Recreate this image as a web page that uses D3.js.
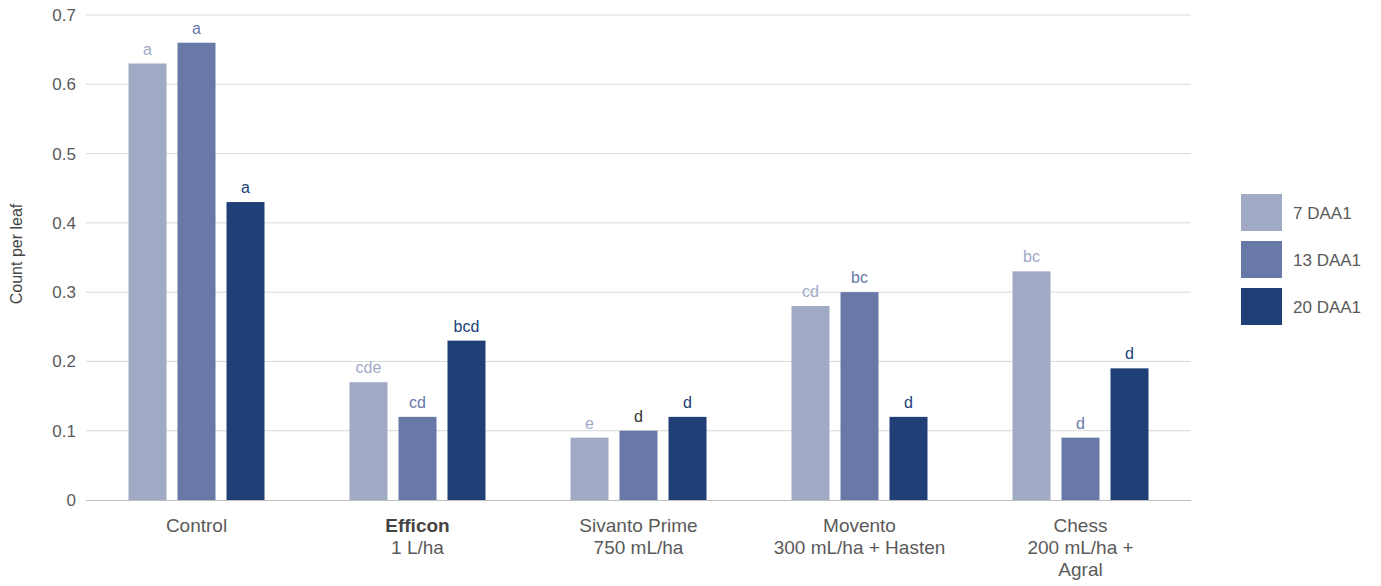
<!DOCTYPE html>
<html><head><meta charset="utf-8">
<script src="https://cdn.jsdelivr.net/npm/d3@7"></script>
<style>body{margin:0;background:#fff}svg{display:block;font-family:"Liberation Sans",Arial,sans-serif}</style>
</head><body><svg id="c" width="1381" height="586"></svg>
<script>
const categories = ["Control", "Efficon", "Sivanto Prime", "Movento", "Chess"];
const categoryLines = [["Control"], ["Efficon", "1 L/ha"], ["Sivanto Prime", "750 mL/ha"], ["Movento", "300 mL/ha + Hasten"], ["Chess", "200 mL/ha +", "Agral"]];
const seriesNames = ["7 DAA1", "13 DAA1", "20 DAA1"];
const daa7 = [0.63, 0.17, 0.09, 0.28, 0.33];
const daa13 = [0.66, 0.12, 0.10, 0.30, 0.09];
const daa20 = [0.43, 0.23, 0.12, 0.12, 0.19];
const letters7 = ["a", "cde", "e", "cd", "bc"];
const letters13 = ["a", "cd", "d", "bc", "d"];
const letters20 = ["a", "bcd", "d", "d", "d"];
const yTicks = [0, 0.1, 0.2, 0.3, 0.4, 0.5, 0.6, 0.7];

(function () {
const colors = ["#a1aac5", "#6879a8", "#203f76"];
const series = [daa7, daa13, daa20];
const letterSets = [letters7, letters13, letters20];

const svg = d3.select("#c");
const mLeft = 86, mRight = 1191, mTop = 15, mBottom = 500;
const x = d3.scaleBand().domain(categories).range([mLeft, mRight]);
const y = d3.scaleLinear().domain([0, 0.7]).range([mBottom, mTop]);
const barW = 38, step = 49;

svg.append("g").selectAll("line").data(yTicks.filter(d => d > 0)).join("line")
  .attr("x1", mLeft).attr("x2", mRight).attr("y1", d => y(d)).attr("y2", d => y(d))
  .attr("stroke", "#d9d9d9").attr("stroke-width", 1);

const yAxis = d3.axisLeft(y).tickValues(yTicks).tickFormat(d => d === 0 ? "0" : d3.format(".1f")(d)).tickSize(0).tickPadding(10);
const ga = svg.append("g").attr("transform", `translate(${mLeft},0)`).call(yAxis);
ga.select(".domain").remove();
ga.selectAll("text").attr("font-size", 17).attr("fill", "#5a5a5a").attr("font-family", "Liberation Sans, Arial, sans-serif");

svg.append("text").attr("transform", `translate(22,254) rotate(-90)`).attr("text-anchor", "middle")
  .attr("font-size", 16).attr("fill", "#444").text("Count per leaf");

series.forEach((vals, si) => {
  const g = svg.append("g");
  g.selectAll("rect").data(vals).join("rect")
    .attr("x", (d, i) => x(categories[i]) + x.bandwidth() / 2 + (si - 1) * step - barW / 2)
    .attr("width", barW)
    .attr("y", d => y(d)).attr("height", d => y(0) - y(d))
    .attr("fill", colors[si]);
  g.selectAll("text").data(vals).join("text")
    .attr("x", (d, i) => x(categories[i]) + x.bandwidth() / 2 + (si - 1) * step)
    .attr("y", d => y(d) - 9)
    .attr("text-anchor", "middle").attr("font-size", 16)
    .attr("fill", (d, i) => (si === 1 && i === 2) ? "#333" : colors[si])
    .text((d, i) => letterSets[si][i]);
});

svg.append("line").attr("x1", mLeft).attr("x2", mRight).attr("y1", y(0) + 0.5).attr("y2", y(0) + 0.5)
  .attr("stroke", "#bfbfbf").attr("stroke-width", 1);

categoryLines.forEach((lines, i) => {
  const t = svg.append("text").attr("text-anchor", "middle").attr("font-size", 19).attr("fill", "#5a5a5a");
  lines.forEach((ln, j) => {
    t.append("tspan").attr("x", x(categories[i]) + x.bandwidth() / 2).attr("y", 532 + j * 22)
      .attr("font-weight", (i === 1 && j === 0) ? "bold" : null)
      .attr("fill", (i === 1 && j === 0) ? "#444" : null)
      .text(ln);
  });
});

const lg = svg.append("g");
seriesNames.forEach((n, i) => {
  lg.append("rect").attr("x", 1241).attr("y", 194 + i * 47).attr("width", 41).attr("height", 37).attr("fill", colors[i]);
  lg.append("text").attr("x", 1293).attr("y", 219 + i * 47).attr("font-size", 17).attr("fill", "#5a5a5a").text(n);
});
})();
</script></body></html>
